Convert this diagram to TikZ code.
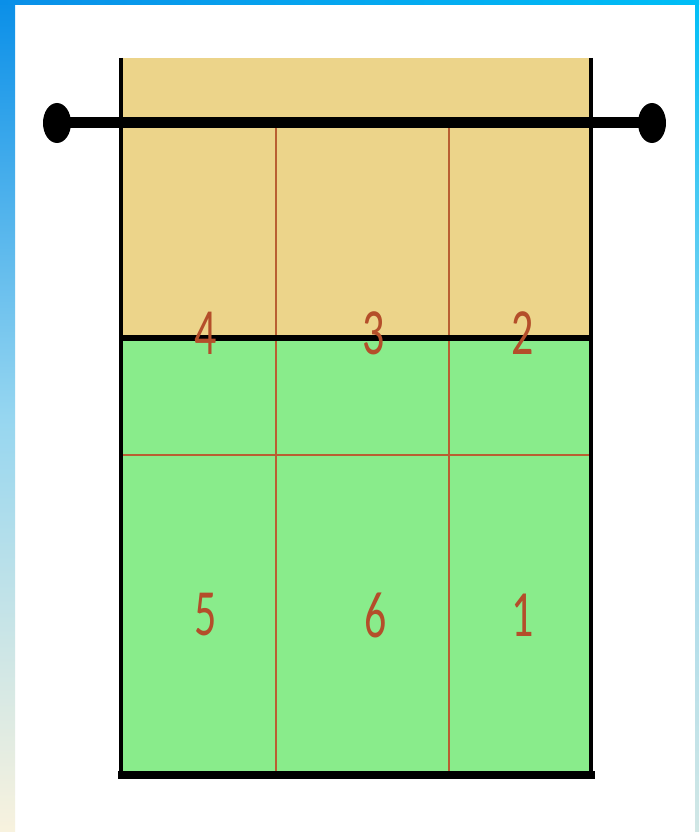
\documentclass[tikz,border=0pt]{standalone}
\usepackage{fontspec}
\setmainfont{Carlito}
\definecolor{frameblue}{RGB}{10,143,232}
\definecolor{frameblueR}{RGB}{0,190,246}
\definecolor{framemid}{RGB}{150,214,240}
\definecolor{framelow}{RGB}{248,242,222}
\definecolor{frontzone}{RGB}{236,212,138}
\definecolor{backzone}{RGB}{137,236,139}
\definecolor{zoneline}{RGB}{185,95,50}
\definecolor{posnum}{RGB}{180,78,42}
\tikzset{
  posnum/.style={text=posnum, font=\fontsize{44}{44}\selectfont, yscale=1.5, inner sep=0pt},
  zoneline/.style={draw=zoneline, line width=1.6pt}
}
\begin{document}
\begin{tikzpicture}[x=1pt,y=-1pt]
        % Page: 699 x 832
        \useasboundingbox (0,0) rectangle (699,832);
        \fill[white] (0,0) rectangle (699,832);

        % Frame strips
        \shade[top color=frameblue, bottom color=framelow, middle color=framemid] (0,0) rectangle (15,832);
        \shade[top color=frameblueR, bottom color=framelow!60!framemid, middle color=framemid] (695,0) rectangle (699,832);
        \shade[left color=frameblue, right color=frameblueR] (0,0) rectangle (699,5);

        % Zones: front (tan) and back (green)
        \fill[frontzone] (122,58) rectangle (590,338);
        \fill[backzone] (122,338) rectangle (590,775);

        % Zone dividers
        \draw[zoneline] (276,123) -- (276,775);
        \draw[zoneline] (449,123) -- (449,775);
        \draw[zoneline] (122,455) -- (590,455);

        % Court lines
        \draw[line width=4pt] (121,58) -- (121,775);
        \draw[line width=4pt] (591,58) -- (591,775);
        \draw[line width=8pt] (118,775) -- (595,775);
        \draw[line width=6pt] (120,338) -- (592,338);

        % Net with posts
        \coordinate (netL) at (57,123);
        \coordinate (netR) at (652,123);
        \draw[line width=11pt] (netL) -- (netR);
        \fill (netL) ellipse (14 and 20);
        \fill (netR) ellipse (14 and 20);

        % Positions
        \node[posnum] (p4) at (206,333) {4};
        \node[posnum] (p3) at (374,333) {3};
        \node[posnum] (p2) at (523,333) {2};
        \node[posnum] (p5) at (206,615) {5};
        \node[posnum] (p6) at (376,615) {6};
        \node[posnum] (p1) at (523,615) {1};
    \end{tikzpicture}
\end{document}
